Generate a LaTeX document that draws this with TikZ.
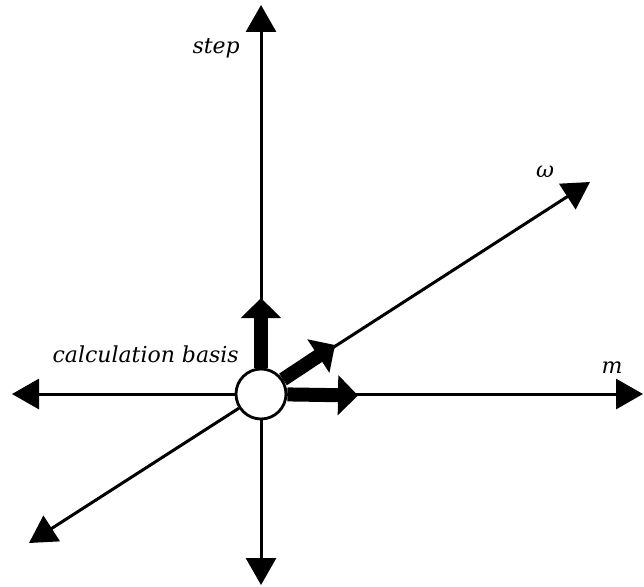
\documentclass[tikz,border=0pt]{standalone}
\usepackage{fontspec}
\setmainfont{DejaVu Serif}
\usetikzlibrary{arrows.meta}
\begin{document}
\begin{tikzpicture}[x=1pt,y=-1pt,
  axis/.style={line width=3pt,-{Triangle[length=27pt,width=30pt]}},
  vec/.style={line width=14pt,-{Triangle[length=20pt,width=39pt]}},
  lbl/.style={font=\fontsize{22}{26}\selectfont\itshape,inner sep=0pt},
  hub/.style={circle,minimum size=50pt,inner sep=0pt,line width=2.8pt}]
\useasboundingbox (0,0) rectangle (644,586);
\path (261,394) node[hub] (c) {};
\coordinate (up) at (261,5);
\coordinate (dn) at (261,585);
\coordinate (lf) at (12,394);
\coordinate (rt) at (643,394);
\coordinate (om) at (590,182);
\coordinate (ll) at (29,543);
\coordinate (vu) at (261,298);
\coordinate (vr) at (358,395.5);
\coordinate (vd) at (335,345);
\draw[axis] (c) -- (up);
\draw[axis] (c) -- (dn);
\draw[axis] (c) -- (lf);
\draw[axis] (c) -- (rt);
\draw[axis] (c) -- (om);
\draw[axis] (c) -- (ll);
\draw[vec] (c) -- (vu);
\draw[vec] (c) -- (vr);
\draw[vec] (c) -- (vd);
\node[hub,draw,fill=white] at (c) {};
\node[lbl,anchor=base east] (ls) at (240,53) {step};
\node[lbl] (lo) at (545,172) {ω};
\node[lbl] (lm) at (612,368) {m};
\node[lbl,anchor=base east] (lc) at (239,362) {calculation basis};
\end{tikzpicture}
\end{document}
